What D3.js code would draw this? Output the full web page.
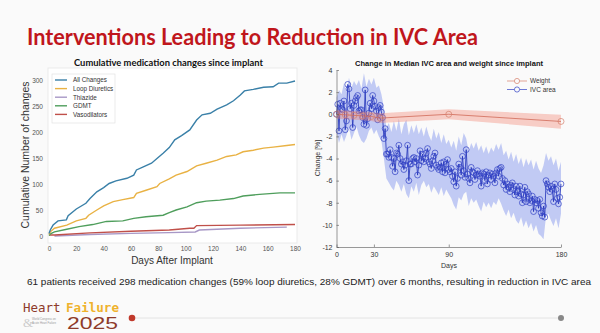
<!DOCTYPE html>
<html>
<head>
<meta charset="utf-8">
<script src="https://cdn.jsdelivr.net/npm/d3@7"></script>
<style>
  body { margin: 0; background: #fafafa; }
  svg { display: block; }
</style>
</head>
<body>
<script>
// ---- left chart: cumulative medication changes ----
const dayTicks = [0, 20, 40, 60, 80, 100, 120, 140, 160, 180];
const countTicks = [0, 50, 100, 150, 200, 250, 300];
const medLegend = ['All Changes', 'Loop Diuretics', 'Thiazide', 'GDMT', 'Vasodilators'];

const allDays = [0, 1, 3, 6.6, 12.7, 14, 20, 27, 30, 35, 40, 44, 49, 57, 62, 64, 69, 75, 79, 83.5, 88, 92, 97, 103, 108, 112, 118, 123, 130, 135, 140, 143, 149.5, 157, 164, 168, 174, 180];
const allVals = [5, 12, 21, 29, 31, 39, 52, 63, 72, 85, 93, 101, 106, 111, 117, 127, 133, 140, 149, 159, 170, 185, 193, 204, 223, 233, 236, 244, 252, 260, 271, 279, 282, 286, 287, 294, 294, 298];

const loopDays = [0, 1, 4, 13, 20, 27, 29, 35, 40, 47, 54, 62, 64, 71, 79, 81, 88, 93, 101, 108, 115, 123, 130, 137, 142, 149.5, 157, 164, 174, 180];
const loopVals = [3, 8, 15, 21, 29, 34, 40, 50, 58, 66, 70, 74, 82, 88, 95, 101, 110, 117, 124, 135, 140, 146, 153, 156, 162, 165, 169, 171, 174, 176];

const thiazideDays = [4, 30, 60, 88, 107, 110, 140, 174];
const thiazideVals = [0, 3, 5, 6.5, 7.7, 11.5, 15, 17];

const gdmtDays = [0, 1, 4, 13, 22, 32, 42, 54, 62, 71, 83.5, 88, 93, 101, 108, 115, 125, 135, 142, 154, 169, 180];
const gdmtVals = [1, 4, 8, 13, 18, 22, 28, 29, 34, 37, 40, 45, 50, 56, 64, 67, 69, 72, 77, 80, 83, 83];

const vasoDays = [0, 4, 30, 60, 88, 103, 106, 108, 140, 180];
const vasoVals = [2, 2, 6, 9, 11.5, 15, 15, 20, 21, 22];

// ---- right chart: IVC area and weight ----
const ivcTicksX = [0, 30, 90, 180];
const ivcTicksY = [-12, -10, -8, -6, -4, -2, 0, 2, 4];

// median IVC area change, one value per day 0..180
const ivcVals = [
  0, 0.9, -1.5, 1.0, 0.5, 0.4, 1.2, -1.4, -0.6, 2.7,
  2.3, 0.5, 1.0, -1.2, 0.8, 1.2, 1.5, 1.7, 0.3, 0.4,
  0.4, -0.3, -0.9, 2.2, -1.0, -0.4, 0.1, 1.0, 0.5, 1.7,
  1.2, 0.7, 0.3, -0.5, 0.6, 0.8, 0.2, -0.3, -2.2, -1.3,
  -3.6, -3.6, -3.9, -3.2, -3.9, -4.7, -4.0, -5.2, -3.5, -3.6,
  -2.8, -4.0, -4.5, -4.3, -5.0, -4.6, -4.2, -2.8, -6.0, -4.5,
  -4.5, -4.0, -3.9, -4.3, -4.0, -5.5, -4.6, -3.3, -4.2, -3.6,
  -4.3, -4.0, -3.5, -3.1, -4.3, -4.5, -4.9, -4.2, -3.8, -3.5,
  -4.6, -4.8, -5.0, -4.8, -4.4, -5.2, -4.3, -5.3, -4.5, -4.1,
  -5.0, -5.2, -4.9, -5.6, -6.1, -5.2, -6.5, -5.8, -4.5, -4.8,
  -5.5, -3.8, -5.1, -5.7, -3.2, -5.4, -5.8, -6.2, -4.8, -5.2,
  -5.3, -5.9, -5.5, -5.1, -5.4, -5.6, -6.5, -5.3, -5.4, -6.0,
  -5.2, -6.3, -5.5, -5.3, -5.9, -5.4, -5.6, -6.2, -5.3, -5.0,
  -5.6, -4.9, -4.8, -5.8, -6.4, -6.0, -6.8, -6.3, -6.6, -7.0,
  -6.4, -6.2, -6.8, -7.3, -6.5, -7.0, -7.4, -6.5, -7.2, -8.0,
  -7.3, -6.6, -7.9, -7.0, -7.2, -8.0, -7.8, -7.4, -8.8, -7.7,
  -8.0, -7.8, -8.5, -7.7, -8.9, -9.2, -8.3, -9.3, -6.0, -6.3,
  -6.6, -7.0, -6.5, -6.8, -7.9, -6.3, -6.8, -7.6, -8.1, -7.5,
  -6.3
];

// confidence band, one value every 2 days 0..180
const ivcUpper = [
  1.5, 2.2, 1.8, 2.8, 2.0, 3.3, 2.4, 3.0, 2.6, 3.1,
  2.3, 3.7, 2.5, 3.2, 2.7, 3.3, 2.4, 2.6, 1.8, 0.6,
  -1.2, -0.8, -1.6, -0.6, -1.5, -0.4, -1.8, -0.9, -0.5, -1.9,
  -1.0, -1.7, -0.9, -1.8, -1.2, -2.0, -1.1, -1.9, -2.4, -1.3,
  -2.2, -1.6, -2.6, -1.8, -2.7, -2.3, -3.0, -2.4, -3.3, -2.0,
  -2.8, -1.7, -2.2, -3.4, -2.6, -3.1, -2.5, -3.3, -2.8, -3.5,
  -2.9, -3.6, -3.0, -3.4, -2.7, -3.2, -2.6, -3.7, -3.3, -4.1,
  -3.4, -4.3, -3.6, -4.5, -3.9, -4.8, -4.0, -4.6, -4.1, -5.0,
  -4.2, -4.9, -5.3, -4.6, -3.5, -4.2, -3.8, -4.6, -4.0, -5.1,
  -4.3
];
const ivcLower = [
  -1.6, -2.6, -1.8, -2.5, -1.9, -1.2, -2.3, -1.7, -1.1, -1.9,
  -2.4, -2.6, -2.2, -1.5, -1.2, -1.8, -1.4, -2.0, -2.4, -4.0,
  -5.8, -6.2, -6.6, -6.9, -6.0, -6.4, -7.0, -6.3, -7.2, -7.6,
  -6.5, -7.0, -6.2, -7.3, -6.4, -6.0, -6.6, -6.3, -7.1, -6.5,
  -6.9, -7.3, -6.6, -7.4, -6.8, -7.2, -7.6, -8.2, -8.6, -7.5,
  -7.8, -7.2, -7.0, -8.3, -7.6, -8.0, -7.7, -8.3, -8.8, -7.9,
  -8.4, -8.0, -8.5, -7.9, -8.2, -7.6, -8.1, -8.7, -9.2, -8.6,
  -9.4, -8.9, -9.6, -9.9, -9.3, -10.2, -9.6, -10.3, -9.8, -10.6,
  -10.0, -10.8, -11.0, -11.3, -9.2, -9.0, -9.6, -10.1, -9.4, -10.3,
  -9.0
];

const weightDays = [0, 7, 14, 21, 28, 35, 90, 180];
const weightVals = [0, -0.05, -0.1, -0.15, -0.2, -0.35, 0, -0.65];
const weightUpper = [0.4, 0.35, 0.3, 0.25, 0.2, 0.1, 0.45, -0.05];
const weightLower = [-0.4, -0.45, -0.5, -0.55, -0.6, -0.8, -0.45, -1.3];

const W = 600, H = 333;
const svg = d3.select('body').append('svg').attr('width', W).attr('height', H);

svg.append('rect').attr('width', W).attr('height', H).attr('fill', '#fafafa');

// slide title
svg.append('text')
  .attr('x', 27).attr('y', 45)
  .attr('textLength', 451).attr('lengthAdjust', 'spacingAndGlyphs')
  .style('font-family', 'Lato, "Open Sans", sans-serif')
  .style('font-weight', 700).style('font-size', '23px')
  .attr('fill', '#c0161c')
  .text('Interventions Leading to Reduction in IVC Area');

// ===== left chart =====
const x1 = d3.scaleLinear().domain([0, 180]).range([49, 295]);
const y1 = d3.scaleLinear().domain([0, 300]).range([236, 80]);
const left = svg.append('g');

left.append('rect')
  .attr('x', 48).attr('y', 68).attr('width', 249).attr('height', 175)
  .attr('fill', '#fff').attr('stroke', '#e6e6e6').attr('stroke-width', 0.8);

left.append('text')
  .attr('x', 74).attr('y', 66)
  .attr('textLength', 189).attr('lengthAdjust', 'spacingAndGlyphs')
  .style('font-family', 'Lato, sans-serif').style('font-weight', 700).style('font-size', '9.5px')
  .attr('fill', '#111')
  .text('Cumulative medication changes since implant');

const lax = left.append('g').attr('transform', 'translate(0,243)')
  .call(d3.axisBottom(x1).tickValues(dayTicks).tickSize(0).tickPadding(3));
const lay = left.append('g').attr('transform', 'translate(48,0)')
  .call(d3.axisLeft(y1).tickValues(countTicks).tickSize(0).tickPadding(5));
[lax, lay].forEach(a => {
  a.select('.domain').remove();
  a.selectAll('text').attr('fill', '#555')
    .style('font-family', '"Liberation Sans", Arial, sans-serif').style('font-size', '6.5px');
});

left.append('text')
  .attr('x', 172).attr('y', 264).attr('text-anchor', 'middle')
  .style('font-family', '"Liberation Sans", Arial, sans-serif').style('font-size', '10px')
  .attr('fill', '#333').text('Days After Implant');
left.append('text')
  .attr('transform', 'translate(29,155) rotate(-90)').attr('text-anchor', 'middle')
  .style('font-family', '"Liberation Sans", Arial, sans-serif').style('font-size', '10.5px')
  .attr('fill', '#333').text('Cumulative Number of changes');

const medSeries = [
  { days: allDays, vals: allVals, color: '#3a80a8' },
  { days: loopDays, vals: loopVals, color: '#e9b244' },
  { days: thiazideDays, vals: thiazideVals, color: '#a898c6' },
  { days: gdmtDays, vals: gdmtVals, color: '#4f9e5c' },
  { days: vasoDays, vals: vasoVals, color: '#c0504a' }
];
const medLine = d3.line().x(d => x1(d[0])).y(d => y1(d[1]));

// draw thiazide/vaso below the rest
[2, 4, 3, 1, 0].forEach(i => {
  const s = medSeries[i];
  left.append('path')
    .datum(s.days.map((d, j) => [d, s.vals[j]]))
    .attr('d', medLine)
    .attr('fill', 'none').attr('stroke', s.color).attr('stroke-width', 1.4);
});

const lleg = left.append('g');
lleg.append('rect').attr('x', 52).attr('y', 74).attr('width', 63).attr('height', 49)
  .attr('fill', '#fff').attr('stroke', '#ddd').attr('stroke-width', 0.6);
medLegend.forEach((name, i) => {
  const yy = 80 + i * 8.6;
  lleg.append('line').attr('x1', 55).attr('x2', 67).attr('y1', yy).attr('y2', yy)
    .attr('stroke', medSeries[i].color).attr('stroke-width', 1.4);
  lleg.append('text').attr('x', 73).attr('y', yy + 2.3)
    .style('font-family', '"Liberation Sans", Arial, sans-serif').style('font-size', '6.3px')
    .attr('fill', '#333').text(name);
});

// ===== right chart =====
const x2 = d3.scaleLinear().domain([0, 180]).range([336.5, 561]);
const y2 = d3.scaleLinear().domain([-12, 4]).range([247, 70]);
const right = svg.append('g');

right.append('text')
  .attr('x', 355).attr('y', 66)
  .attr('textLength', 188).attr('lengthAdjust', 'spacingAndGlyphs')
  .style('font-family', '"Liberation Sans", Arial, sans-serif').style('font-weight', 700).style('font-size', '7.5px')
  .attr('fill', '#111')
  .text('Change in Median IVC area and weight since implant');

const bandArea = d3.area().x(d => x2(d[0])).y0(d => y2(d[1])).y1(d => y2(d[2]));

right.append('path')
  .datum(ivcUpper.map((u, i) => [i * 2, ivcLower[i], u]))
  .attr('d', bandArea)
  .attr('fill', 'rgb(115,135,235)').attr('fill-opacity', 0.42);

const ivcPts = ivcVals.map((v, i) => [i, v]);
const ptLine = d3.line().x(d => x2(d[0])).y(d => y2(d[1]));
right.append('path').datum(ivcPts).attr('d', ptLine)
  .attr('fill', 'none').attr('stroke', '#2030b8').attr('stroke-width', 0.8);
right.selectAll('circle.ivc').data(ivcPts).enter().append('circle')
  .attr('class', 'ivc')
  .attr('cx', d => x2(d[0])).attr('cy', d => y2(d[1])).attr('r', 2.9)
  .attr('fill', 'none').attr('stroke', '#3040c4').attr('stroke-width', 0.7);

right.append('path')
  .datum(weightDays.map((d, i) => [d, weightLower[i], weightUpper[i]]))
  .attr('d', bandArea)
  .attr('fill', 'rgb(240,120,100)').attr('fill-opacity', 0.35);
const wPts = weightDays.map((d, i) => [d, weightVals[i]]);
right.append('path').datum(wPts).attr('d', ptLine)
  .attr('fill', 'none').attr('stroke', '#d06a58').attr('stroke-width', 0.8);
right.selectAll('circle.w').data(wPts).enter().append('circle')
  .attr('class', 'w')
  .attr('cx', d => x2(d[0])).attr('cy', d => y2(d[1])).attr('r', 3)
  .attr('fill', 'none').attr('stroke', '#d6806c').attr('stroke-width', 0.7);

const rax = right.append('g').attr('transform', 'translate(0,247)')
  .call(d3.axisBottom(x2).tickValues(ivcTicksX).tickSizeInner(-2.5).tickSizeOuter(0).tickPadding(5));
const ray = right.append('g').attr('transform', 'translate(336.5,0)')
  .call(d3.axisLeft(y2).tickValues(ivcTicksY).tickSizeInner(-2.5).tickSizeOuter(0).tickPadding(4));
[rax, ray].forEach(a => {
  a.select('.domain').attr('stroke', '#555').attr('stroke-width', 0.6);
  a.selectAll('line').attr('stroke', '#555').attr('stroke-width', 0.6);
  a.selectAll('text').attr('fill', '#333')
    .style('font-family', '"Liberation Sans", Arial, sans-serif').style('font-size', '7px');
});
ray.selectAll('text').text(d => d < 0 ? '-' + Math.abs(d) : d);

right.append('text')
  .attr('x', 449).attr('y', 268).attr('text-anchor', 'middle')
  .style('font-family', '"Liberation Sans", Arial, sans-serif').style('font-size', '7px')
  .attr('fill', '#333').text('Days');
right.append('text')
  .attr('transform', 'translate(320,158) rotate(-90)').attr('text-anchor', 'middle')
  .style('font-family', '"Liberation Sans", Arial, sans-serif').style('font-size', '7px')
  .attr('fill', '#333').text('Change [%]');

const rLegend = [
  { name: 'Weight', color: '#d6806c' },
  { name: 'IVC area', color: '#3040c4' }
];
rLegend.forEach((e, i) => {
  const yy = 81 + i * 8.5;
  right.append('line').attr('x1', 507).attr('x2', 527).attr('y1', yy).attr('y2', yy)
    .attr('stroke', e.color).attr('stroke-width', 0.7);
  right.append('circle').attr('cx', 517).attr('cy', yy).attr('r', 2.6)
    .attr('fill', '#fafafa').attr('stroke', e.color).attr('stroke-width', 0.7);
  right.append('text').attr('x', 530).attr('y', yy + 2.3)
    .style('font-family', '"Liberation Sans", Arial, sans-serif').style('font-size', '6.5px')
    .attr('fill', '#333').text(e.name);
});

// summary line
svg.append('text')
  .attr('x', 27).attr('y', 285)
  .attr('textLength', 564).attr('lengthAdjust', 'spacingAndGlyphs')
  .style('font-family', '"Liberation Sans", Arial, sans-serif').style('font-size', '9.8px')
  .attr('fill', '#222')
  .text('61 patients received 298 medication changes (59% loop diuretics, 28% GDMT) over 6 months, resulting in reduction in IVC area');

// congress logo
const logo = svg.append('g');
logo.append('text').attr('x', 23).attr('y', 312)
  .style('font-family', '"DejaVu Sans Mono", monospace').style('font-size', '12.5px')
  .attr('fill', '#8e3b2a').text('Heart');
logo.append('text').attr('x', 66).attr('y', 312)
  .attr('textLength', 53).attr('lengthAdjust', 'spacingAndGlyphs')
  .style('font-family', '"DejaVu Sans Mono", monospace').style('font-weight', 700).style('font-size', '12.5px')
  .attr('fill', '#efb22c').text('Failure');
logo.append('text').attr('x', 23).attr('y', 327)
  .style('font-family', 'serif').style('font-size', '13px')
  .attr('fill', '#ccc').text('&');
logo.append('text').attr('x', 32).attr('y', 319.5)
  .style('font-family', '"Liberation Sans", sans-serif').style('font-size', '2.8px')
  .attr('fill', '#999').text('World Congress on');
logo.append('text').attr('x', 32).attr('y', 324)
  .style('font-family', '"Liberation Sans", sans-serif').style('font-size', '2.8px')
  .attr('fill', '#999').text('Acute Heart Failure');
logo.append('text').attr('x', 67).attr('y', 328.5)
  .attr('textLength', 51).attr('lengthAdjust', 'spacingAndGlyphs')
  .style('font-family', '"Liberation Sans", sans-serif').style('font-size', '17px')
  .attr('fill', '#8e3b2a').text('2025');
logo.append('line').attr('x1', 135).attr('x2', 558).attr('y1', 318).attr('y2', 318)
  .attr('stroke', '#ddd').attr('stroke-width', 0.8);
logo.append('circle').attr('cx', 132).attr('cy', 318).attr('r', 3.3).attr('fill', '#c0392b');
logo.append('circle').attr('cx', 561).attr('cy', 318).attr('r', 3).attr('fill', '#888');
</script>
</body>
</html>
